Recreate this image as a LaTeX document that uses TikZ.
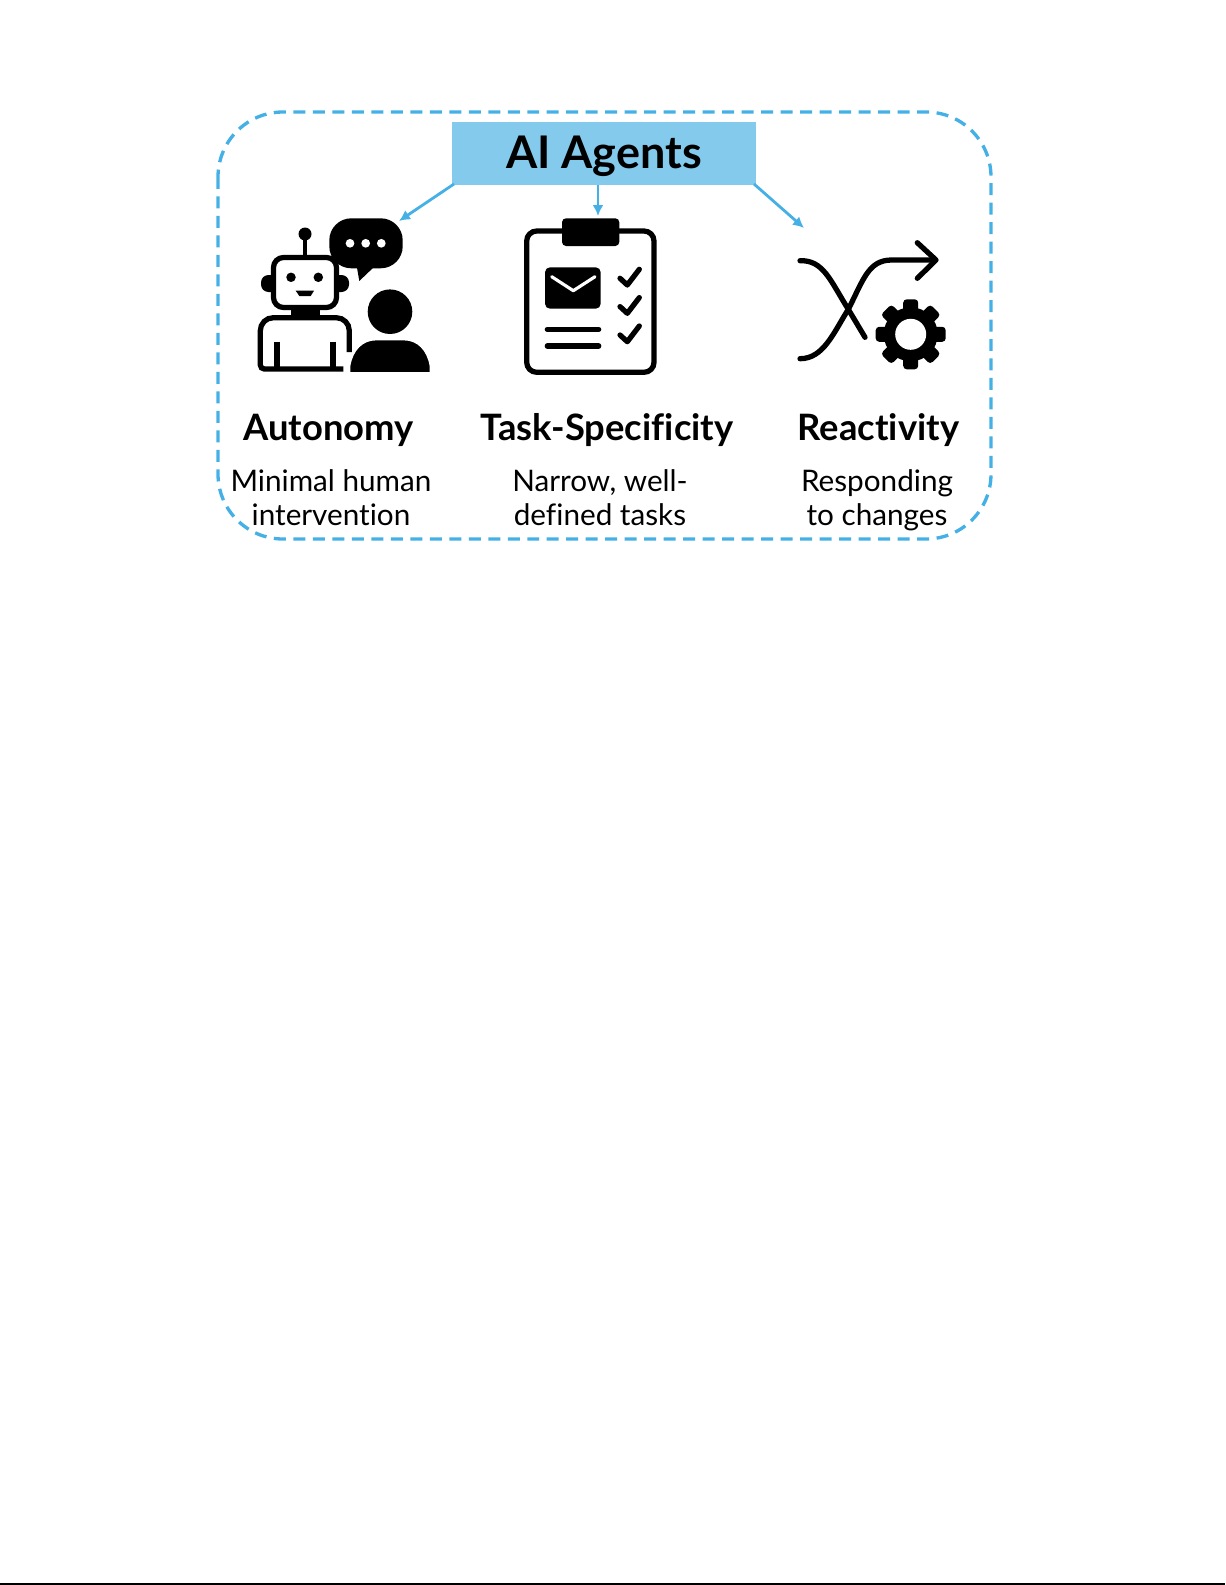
\documentclass[tikz,border=0pt]{standalone}
\usepackage{fontspec}
\setmainfont{Lato}[Ligatures=NoCommon]
\definecolor{framecol}{HTML}{45B0E5}
\definecolor{boxcol}{HTML}{83CAEC}
\tikzset{
  headfont/.style={font=\bfseries\fontsize{20.7}{24}\selectfont},
  subfont/.style={font=\fontsize{16.9}{19}\selectfont,align=center},
  link/.style={framecol,line width=1.6pt,-{Latex[length=2.2mm,width=2.2mm]}},
  icon/.style={black,line width=3pt},
  thin icon/.style={black,line width=3pt,line cap=round,line join=round},
  tooth/.style={fill=black,rounded corners=0.7mm,minimum width=14mm,minimum height=3mm,inner sep=0pt}
}
\usetikzlibrary{arrows.meta}
\begin{document}
\begin{tikzpicture}[x=0.02cm,y=-0.02cm]
\useasboundingbox (0,0) rectangle (1225,1585);
\draw[black,line width=1pt] (0,1584) -- (1225,1584);

\draw[framecol,line width=1.9pt,dash pattern=on 2.4mm off 1.5mm,rounded corners=13mm] (218,112) rectangle (991,539);
\node[fill=boxcol,minimum width=6.08cm,minimum height=1.26cm,inner sep=0pt,text height=21pt,text depth=4pt,font=\bfseries\fontsize{25.6}{28}\selectfont] (title) at (604,153.5) {AI Agents};

\coordinate (leftstart) at (454,184);
\coordinate (midstart) at (598,185);
\coordinate (rightstart) at (754,184);
\coordinate (bubbletip) at (399,221);
\coordinate (cliptip) at (598,216);
\coordinate (shuffletip) at (804,228);
\draw[link] (leftstart) -- (bubbletip);
\draw[link] (midstart) -- (cliptip);
\draw[link] (rightstart) -- (shuffletip);

% robot
\fill (305,234) circle (1.3mm);
\draw[black,line width=2.4pt] (305,234) -- (305,257);
\fill[rounded corners=1.5mm] (261,275) rectangle (285,292);
\fill[rounded corners=1.5mm] (325,275) rectangle (349,292);
\draw[icon,fill=white,rounded corners=2mm] (273.5,257.5) rectangle (336.5,307.5);
\fill (291,277.3) circle (0.95mm);
\fill (318.3,277.3) circle (0.95mm);
\fill (295.7,290.7) -- (314,290.7) -- (310.7,296) -- (299.3,296) -- cycle;
\fill (290.7,310) rectangle (320,318);
\draw[icon,rounded corners=2.6mm] (343.3,369) [rounded corners=0.8mm] -- (260.3,369) [rounded corners=2.6mm] -- (260.3,317.7) -- (349.3,317.7) [sharp corners] -- (349.3,352);
\draw[icon] (277,341.7) -- (277,369);
\draw[icon] (333,341.7) -- (333,369);

% bubble and person
\fill[rounded corners=4.4mm] (329.3,218.3) rectangle (402.7,268.3);
\fill (356.7,266) -- (359.3,281) -- (375,266) -- cycle;
\fill[white] (350,243.3) circle (0.87mm);
\fill[white] (365.7,243.3) circle (0.87mm);
\fill[white] (381.3,243.3) circle (0.87mm);
\fill (390,311.7) circle (4.46mm);
\filldraw[fill=black,draw=white,line width=1pt] (349.5,373) -- (349.5,366) .. controls (352,350) and (362,339.5) .. (376,339.5) -- (404,339.5) .. controls (418,339.5) and (428,350) .. (430.5,366) -- (430.5,373) -- cycle;

% clipboard
\draw[icon,rounded corners=2mm] (526.7,231) rectangle (654,372.3);
\fill[rounded corners=0.8mm] (562,218.3) rectangle (619.3,246);
\fill[rounded corners=1mm] (545,267.3) rectangle (600.7,308.7);
\draw[white,line width=1.8pt,line cap=round,line join=round] (551.7,276.7) -- (573.3,290.7) -- (595,276.7);
\draw[thin icon] (547.3,329.3) -- (598.7,329.3);
\draw[thin icon] (547.3,346) -- (598.7,346);
\draw[thin icon] (620,278.3) -- (627.3,285) -- (639.3,269.3);
\draw[thin icon] (620,306.6) -- (627.3,313.3) -- (639.3,297.6);
\draw[thin icon] (620,335) -- (627.3,341.7) -- (639.3,326);

% shuffle and gear
\draw[thin icon] (800,260.7) .. controls (823.3,260) and (830,280) .. (848.3,309.3) -- (865,337.3);
\draw[thin icon] (800,358.7) .. controls (823.3,358.7) and (833.3,333.3) .. (848.3,309.3) .. controls (863.3,280) and (868.3,260) .. (891.7,260) -- (935,260);
\draw[thin icon] (917.3,242.7) -- (936,260) -- (917.3,278.3);
\coordinate (gearc) at (910.7,334.3);
\node[tooth] (toothA) at (gearc) {};
\node[tooth,rotate=45] (toothB) at (gearc) {};
\node[tooth,rotate=90] (toothC) at (gearc) {};
\node[tooth,rotate=135] (toothD) at (gearc) {};
\fill (gearc) circle (5.4mm);
\fill[white] (gearc) circle (3.1mm);

\node[headfont,anchor=base] (autonomy) at (328.5,440) {Autonomy};
\node[headfont,anchor=base] (taskspec) at (607,440) {Task-Specificity};
\node[headfont,anchor=base] (reactivity) at (878.5,440) {Reactivity};
\node[subfont] (autonomytxt) at (331,502) {\strut Minimal human\\\strut intervention};
\node[subfont] (taskspectxt) at (600,502) {\strut Narrow, well-\\\strut defined tasks};
\node[subfont] (reactivitytxt) at (877,502) {\strut Responding\\\strut to changes};
\end{tikzpicture}
\end{document}
